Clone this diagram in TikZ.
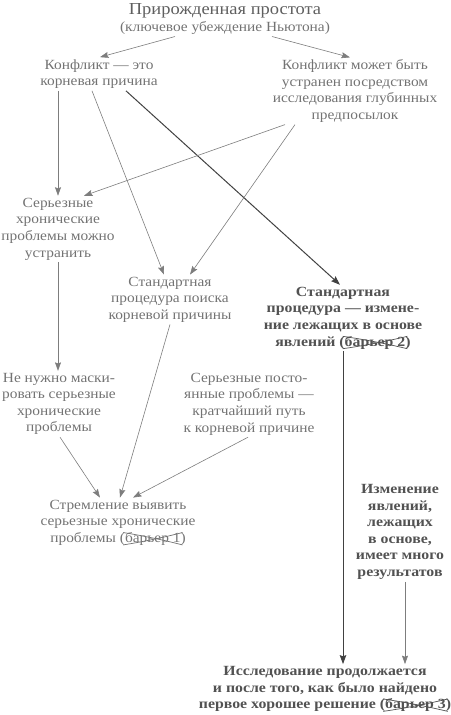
\documentclass[tikz,border=0pt]{standalone}
\usepackage{fontspec}
\usepackage{pict2e}
\setmainfont[FakeStretch=1.1,BoldFeatures={FakeStretch=1.13}]{Liberation Serif}
\usetikzlibrary{arrows.meta,calc}
\definecolor{txtgray}{RGB}{115,115,115}
\definecolor{titlegray}{RGB}{95,95,95}
\definecolor{boldgray}{RGB}{82,82,82}
\definecolor{linegray}{RGB}{125,125,125}
\definecolor{darkline}{RGB}{65,65,65}
\newsavebox\bxbox
\makeatletter
\newcommand\barrx[1]{\sbox\bxbox{#1}%
 \edef\bxW{\strip@pt\dimexpr\wd\bxbox+2pt\relax}%
 \edef\bxH{\strip@pt\dimexpr\ht\bxbox-0.3pt\relax}%
 \edef\bxM{\strip@pt\dimexpr0.5\wd\bxbox\relax}%
 \edef\bxCa{\strip@pt\dimexpr0.5\ht\bxbox-0.5\dp\bxbox+1.5pt\relax}%
 \edef\bxCb{\strip@pt\dimexpr0.5\ht\bxbox-0.5\dp\bxbox-1.5pt\relax}%
 \edef\bxD{\strip@pt\dimexpr-\dp\bxbox+0.3pt\relax}%
 \setlength\unitlength{1pt}%
 \begin{picture}(0,0)\linethickness{0.7pt}%
 \qbezier(-2,\bxH)(\bxM,\bxCa)(\bxW,\bxD)%
 \qbezier(-2,\bxD)(\bxM,\bxCb)(\bxW,\bxH)%
 \end{picture}\usebox\bxbox}
\makeatother
\tikzset{
  lbl/.style={align=center,text=txtgray,font=\fontsize{14}{16.6}\selectfont,inner sep=2pt},
  blbl/.style={align=center,text=boldgray,font=\fontsize{14}{16.6}\selectfont\bfseries,inner sep=2pt},
  arr/.style={draw=linegray,line width=0.6pt,-{Stealth[length=8.5pt,width=6pt,inset=1.2pt]}},
  darr/.style={draw=darkline,line width=1pt,-{Stealth[length=9pt,width=6.5pt,inset=1.2pt]}},
}
\begin{document}
\begin{tikzpicture}[x=1pt,y=-1pt]
\useasboundingbox (0,0) rectangle (450,715);
\node[lbl] (title) at (225,19) {{\fontsize{16.8}{16}\selectfont\color{titlegray}Прирожденная простота}\\(ключевое убеждение Ньютона)};
\node[lbl] (k1) at (99,74) {Конфликт — это\\корневая причина};
\node[lbl] (k2) at (355,91) {Конфликт может быть\\устранен посредством\\исследования глубинных\\предпосылок};
\node[lbl] (s1) at (58,229) {Серьезные\\хронические\\проблемы можно\\устранить};
\node[lbl] (sp) at (170,299.5) {Стандартная\\процедура поиска\\корневой причины};
\node[blbl] (bp) at (343,318) {Стандартная\\процедура — измене-\\ние лежащих в основе\\явлений (\barrx{барьер 2})};
\node[lbl] (nn) at (59,404) {Не нужно маски-\\ровать серьезные\\хронические\\проблемы};
\node[lbl] (sp2) at (249,404) {Серьезные посто-\\янные проблемы —\\кратчайший путь\\к корневой причине};
\node[lbl] (st) at (118,522.5) {Стремление выявить\\серьезные хронические\\проблемы (\barrx{барьер 1})};
\node[blbl] (iz) at (400,532) {Изменение\\явлений,\\лежащих\\в основе,\\имеет много\\результатов};
\node[blbl] (is) at (325,689) {Исследование продолжается\\и после того, как было найдено\\первое хорошее решение (\barrx{барьер 3})};

\draw[arr] ([xshift=-50pt]title.south) -- ([xshift=1pt]k1.north);
\draw[arr] ([xshift=47pt]title.south) -- ([xshift=-5pt]k2.north);
\draw[arr] ([xshift=-41pt]k1.south) -- (s1.north);
\draw[arr] ([xshift=-7pt]k1.south) -- ([xshift=-6pt]sp.north);
\draw[darr] ([xshift=27pt]k1.south) -- ([xshift=-3pt]bp.north);
\draw[arr] ([xshift=-70pt]k2.south) -- ([xshift=26pt]s1.north);
\draw[arr] ([xshift=-60pt]k2.south) -- ([xshift=20pt]sp.north);
\draw[arr] (s1.south) -- ([xshift=-1pt]nn.north);
\draw[arr] (sp.south) -- ([xshift=2pt]st.north);
\draw[arr] ([xshift=1pt]nn.south) -- ([xshift=-18pt]st.north);
\draw[arr] ([xshift=-1pt]sp2.south) -- ([xshift=15pt]st.north);
\draw[darr] (bp.south) -- ([xshift=18pt]is.north);
\draw[arr] ([xshift=5pt]iz.south) -- ([xshift=80pt]is.north);
\end{tikzpicture}
\end{document}
